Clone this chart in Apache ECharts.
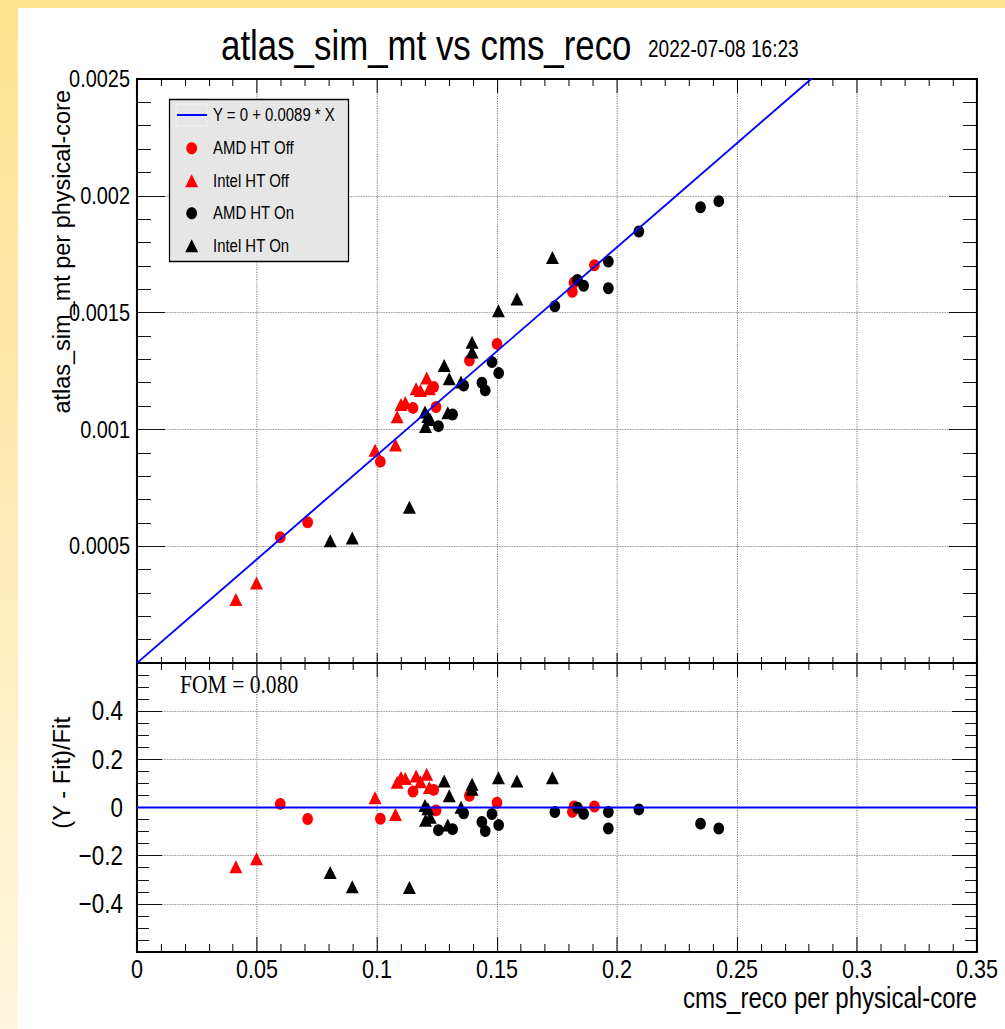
<!DOCTYPE html>
<html>
<head>
<meta charset="utf-8">
<title>atlas_sim_mt vs cms_reco</title>
<script src="https://cdn.jsdelivr.net/npm/echarts@6/dist/echarts.min.js"></script>
<style>
html, body { margin: 0; padding: 0; background: #fff; width: 1005px; height: 1029px; overflow: hidden; }
#main { height: 1029px; transform-origin: 0 0; }
</style>
</head>
<body>
<div id="main"></div>
<script>
// AMD HT Off (red circles)
var amdOffX = [0.0597, 0.0711, 0.1014, 0.1150, 0.1236, 0.1246, 0.1385, 0.1500, 0.1814, 0.1821, 0.1906];
var amdOffY = [0.000538, 0.000602, 0.000862, 0.001092, 0.001182, 0.001096, 0.001295, 0.001366, 0.001589, 0.001629, 0.001703];
var amdOffR = [0.015, -0.048, -0.047, 0.066, 0.073, -0.012, 0.049, 0.020, -0.018, 0.004, 0.004];

// Intel HT Off (red triangles)
var intelOffX = [0.0412, 0.0498, 0.0992, 0.1077, 0.1084, 0.1100, 0.1118, 0.1163, 0.1181, 0.1207, 0.1218];
var intelOffY = [0.000272, 0.000343, 0.000911, 0.000933, 0.001054, 0.001107, 0.001115, 0.001174, 0.001167, 0.001220, 0.001174];
var intelOffR = [-0.246, -0.213, 0.040, -0.029, 0.105, 0.125, 0.120, 0.131, 0.107, 0.138, 0.083];

// AMD HT On (black circles)
var amdOnX = [0.1256, 0.1315, 0.1361, 0.1437, 0.1451, 0.1479, 0.1507, 0.1741, 0.1835, 0.1861, 0.1964, 0.1964, 0.2091, 0.2348, 0.2424];
var amdOnY = [0.001014, 0.001064, 0.001188, 0.001200, 0.001167, 0.001288, 0.001241, 0.001527, 0.001640, 0.001615, 0.001719, 0.001604, 0.001847, 0.001951, 0.001977];
var amdOnR = [-0.094, -0.090, -0.024, -0.060, -0.098, -0.027, -0.073, -0.019, -0.001, -0.026, -0.019, -0.087, -0.008, -0.067, -0.087];

// Intel HT On (black triangles)
var intelOnX = [0.0805, 0.0897, 0.1135, 0.1200, 0.1212, 0.1202, 0.1222, 0.1295, 0.1280, 0.1301, 0.1350, 0.1396, 0.1396, 0.1506, 0.1583, 0.1731];
var intelOnY = [0.000523, 0.000535, 0.000667, 0.001075, 0.001055, 0.001012, 0.001042, 0.001071, 0.001274, 0.001217, 0.001203, 0.001373, 0.001331, 0.001508, 0.001558, 0.001736];
var intelOnR = [-0.270, -0.329, -0.332, 0.008, -0.005, -0.053, -0.040, -0.073, 0.110, 0.049, 0.001, 0.097, 0.076, 0.124, 0.110, 0.124];

// fit Y = 0 + 0.0089 * X, and the zero line of the ratio pad
var fitX = [0, 0.35];
var fitY = [0, 0.003115];
var zeroX = [0, 0.35];
var zeroY = [0, 0];

// ROOT's helvetica is narrow: draw wider and squeeze the whole page sideways
var S = 0.83;
function px(v) { return v / S; }
var FONT = "'Liberation Sans', Arial, sans-serif";

var box = document.getElementById('main');
box.style.width = Math.round(1005 / S) + 'px';
box.style.transform = 'scaleX(' + S + ')';

function pairs(xs, ys) {
  var out = [];
  for (var i = 0; i < xs.length; i++) out.push([xs[i], ys[i]]);
  return out;
}

function dots(name, xs, ys, pad, shape, color) {
  return {
    name: name,
    type: 'scatter',
    xAxisIndex: pad * 2,
    yAxisIndex: pad * 2,
    symbol: shape,
    symbolSize: shape == 'circle' ? [px(10.7), 12] : [px(13), 13],
    itemStyle: { color: color, opacity: 1 },
    data: pairs(xs, ys),
    z: 3
  };
}

function num(v) { return String(+v.toFixed(6)); }

function ratioFmt(v) {
  var s = String(+v.toFixed(3));
  return v < 0 ? '\u2212' + s.slice(1) : s;
}

function xAx(grid, pos, major, minor, labels, split) {
  return {
    type: 'value', gridIndex: grid, position: pos,
    min: 0, max: 0.35, interval: 0.05,
    axisLine: { show: true, onZero: false, lineStyle: { color: '#000', width: 2 } },
    axisTick: { show: true, inside: true, length: major, lineStyle: { color: '#000', width: px(1) } },
    minorTick: { show: true, splitNumber: 5, length: minor, lineStyle: { color: '#000', width: px(1) } },
    axisLabel: { show: labels, color: '#000', fontFamily: FONT, fontSize: 26, margin: 4, formatter: num },
    splitLine: { show: split, lineStyle: { color: '#777', type: 'dotted', width: px(1) } }
  };
}

function yAx(grid, pos, min, max, step, minorN, major, minor, labels, split, fmt) {
  return {
    type: 'value', gridIndex: grid, position: pos,
    min: min, max: max, interval: step,
    axisLine: { show: true, onZero: false, lineStyle: { color: '#000', width: px(2) } },
    axisTick: { show: true, inside: true, length: px(major), lineStyle: { color: '#000', width: 1 } },
    minorTick: { show: true, splitNumber: minorN, length: px(minor), lineStyle: { color: '#000', width: 1 } },
    axisLabel: { show: labels, color: '#000', fontFamily: FONT, fontSize: grid == 0 ? 24 : 27,
                 margin: px(grid == 0 ? 7 : 14), showMinLabel: false, showMaxLabel: grid == 0, formatter: fmt },
    splitLine: { show: split, lineStyle: { color: '#777', type: 'dotted', width: 1 } }
  };
}

var myChart = echarts.init(box, null, { renderer: 'svg' });

var option = {
  backgroundColor: '#fff',
  animation: false,
  grid: [
    { left: px(137), top: 79, width: px(840), height: 584 },
    { left: px(137), top: 663, width: px(840), height: 289 }
  ],
  xAxis: [
    xAx(0, 'bottom', 10, 6, false, true),
    xAx(0, 'top', 14, 7, false, false),
    xAx(1, 'bottom', 15, 8, true, true),
    xAx(1, 'top', 14, 7, false, false)
  ],
  yAxis: [
    yAx(0, 'left', 0, 0.0025, 0.0005, 5, 28, 14, true, true, num),
    yAx(0, 'right', 0, 0.0025, 0.0005, 5, 28, 14, false, false, num),
    yAx(1, 'left', -0.6, 0.6, 0.2, 4, 25, 12, true, true, ratioFmt),
    yAx(1, 'right', -0.6, 0.6, 0.2, 4, 25, 12, false, false, ratioFmt)
  ],
  series: [
    dots('AMD HT Off', amdOffX, amdOffY, 0, 'circle', '#ff0000'),
    dots('Intel HT Off', intelOffX, intelOffY, 0, 'triangle', '#ff0000'),
    dots('AMD HT On', amdOnX, amdOnY, 0, 'circle', '#000000'),
    dots('Intel HT On', intelOnX, intelOnY, 0, 'triangle', '#000000'),
    {
      name: 'Y = 0 + 0.0089 * X', type: 'line', xAxisIndex: 0, yAxisIndex: 0,
      data: pairs(fitX, fitY), symbol: 'none', clip: true, z: 4,
      lineStyle: { color: '#0000ff', width: 2 }
    },
    dots('AMD HT Off', amdOffX, amdOffR, 1, 'circle', '#ff0000'),
    dots('Intel HT Off', intelOffX, intelOffR, 1, 'triangle', '#ff0000'),
    dots('AMD HT On', amdOnX, amdOnR, 1, 'circle', '#000000'),
    dots('Intel HT On', intelOnX, intelOnR, 1, 'triangle', '#000000'),
    {
      name: 'zero', type: 'line', xAxisIndex: 2, yAxisIndex: 2,
      data: pairs(zeroX, zeroY), symbol: 'none', z: 4,
      lineStyle: { color: '#0000ff', width: 2 }
    }
  ],
  graphic: [
    // yellow canvas border
    { type: 'rect', z: -10, shape: { x: 0, y: 0, width: px(1005), height: 8 }, style: { fill: '#fee28e' } },
    { type: 'rect', z: -10, shape: { x: 0, y: 0, width: px(18), height: 1029 },
      style: { fill: new echarts.graphic.LinearGradient(0, 0, 0, 1, [
        { offset: 0, color: '#fee28e' }, { offset: 1, color: '#fff6df' }]) } },
    // titles
    { type: 'text', x: px(221), y: 45, style: { text: 'atlas_sim_mt vs cms_reco', font: '42px ' + FONT, fill: '#000',
      verticalAlign: 'middle' } },
    { type: 'text', x: px(648), y: 49, style: { text: '2022-07-08 16:23', font: '23px ' + FONT, fill: '#000',
      verticalAlign: 'middle' } },
    { type: 'text', x: px(977), y: 998, style: { text: 'cms_reco per physical-core', font: '29px ' + FONT, fill: '#000',
      align: 'right', verticalAlign: 'middle' } },
    { type: 'text', x: px(61), y: 90, rotation: Math.PI / 2, scaleX: 0.81, style: { text: 'atlas_sim_mt per physical-core',
      font: '29px ' + FONT, fill: '#000', align: 'right', verticalAlign: 'middle' } },
    { type: 'text', x: px(61), y: 717, rotation: Math.PI / 2, scaleX: 0.82, style: { text: '(Y - Fit)/Fit',
      font: '29px ' + FONT, fill: '#000', align: 'right', verticalAlign: 'middle' } },
    { type: 'text', x: px(180), y: 684, style: { text: 'FOM = 0.080', font: '26px "Liberation Serif", serif',
      fill: '#000', verticalAlign: 'middle' } },
    // legend box
    { type: 'rect', z: 10, shape: { x: px(169.5), y: 99.5, width: px(179), height: 162 },
      style: { fill: '#e6e6e6', stroke: '#000', lineWidth: 1.5 } },
    { type: 'rect', z: 11, shape: { x: px(176), y: 104, width: px(31), height: 22 },
      style: { fill: 'none', stroke: '#f4f4f4', lineWidth: 1 } },
    { type: 'line', z: 11, shape: { x1: px(177), y1: 115, x2: px(207), y2: 115 },
      style: { stroke: '#0000ff', lineWidth: 2 } },
    { type: 'ellipse', z: 11, shape: { cx: px(191.7), cy: 148.3, rx: px(5.4), ry: 6 }, style: { fill: '#ff0000' } },
    { type: 'polygon', z: 11, shape: { points: [[px(191.7), 174.2], [px(198.2), 187.2], [px(185.2), 187.2]] }, style: { fill: '#ff0000' } },
    { type: 'ellipse', z: 11, shape: { cx: px(191.7), cy: 213.3, rx: px(5.4), ry: 6 }, style: { fill: '#000' } },
    { type: 'polygon', z: 11, shape: { points: [[px(191.7), 239.2], [px(198.2), 252.2], [px(185.2), 252.2]] }, style: { fill: '#000' } },
    { type: 'text', z: 11, x: px(213), y: 115, style: { text: 'Y = 0 + 0.0089 * X', font: '18px ' + FONT, fill: '#000', verticalAlign: 'middle' } },
    { type: 'text', z: 11, x: px(213), y: 148.3, style: { text: 'AMD HT Off', font: '18px ' + FONT, fill: '#000', verticalAlign: 'middle' } },
    { type: 'text', z: 11, x: px(213), y: 180.7, style: { text: 'Intel HT Off', font: '18px ' + FONT, fill: '#000', verticalAlign: 'middle' } },
    { type: 'text', z: 11, x: px(213), y: 213.3, style: { text: 'AMD HT On', font: '18px ' + FONT, fill: '#000', verticalAlign: 'middle' } },
    { type: 'text', z: 11, x: px(213), y: 245.7, style: { text: 'Intel HT On', font: '18px ' + FONT, fill: '#000', verticalAlign: 'middle' } }
  ]
};

myChart.setOption(option);
</script>
</body>
</html>
